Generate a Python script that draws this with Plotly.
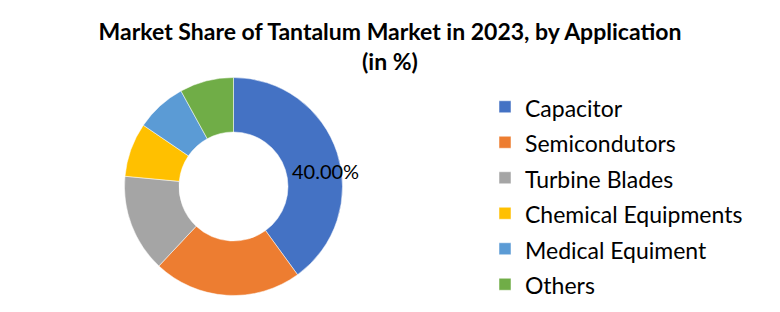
import plotly.graph_objects as go

labels = ["Capacitor", "Semicondutors", "Turbine Blades", "Chemical Equipments", "Medical Equiment", "Others"]
values = [40.0, 22.0, 14.5, 8.0, 7.5, 8.0]
colors = ["#4472C4", "#ED7D31", "#A5A5A5", "#FFC000", "#5B9BD5", "#70AD47"]
title_text = "<b>Market Share of Tantalum Market in 2023, by Application<br>(in %)</b>"

W, H = 780, 312
cx, cy, R = 233.5, 186.5, 109.0

legend_labels = [f"<span style='font-size:23px'>{l}</span>" for l in labels]

fig = go.Figure(go.Pie(
    labels=legend_labels, values=values, sort=False, direction="clockwise", rotation=0,
    hole=0.5, marker=dict(colors=colors, line=dict(color="white", width=0.5)),
    textinfo="none", hovertext=labels, hoverinfo="text+percent",
    domain=dict(x=[(cx - R) / W, (cx + R) / W], y=[(H - cy - R) / H, (H - cy + R) / H]),
))

fig.add_annotation(text=f"{values[0]:.2f}%", xref="paper", yref="paper",
                   x=325 / W, y=(H - 171) / H, showarrow=False,
                   font=dict(family="Lato", size=20, color="#000000"))

fig.update_layout(
    width=W, height=H, margin=dict(l=0, r=0, t=0, b=0),
    paper_bgcolor="white", plot_bgcolor="white",
    title=dict(text=title_text, x=0.5, xanchor="center", y=0.872, yanchor="top",
               font=dict(family="Lato", size=23, color="#000000")),
    legend=dict(x=485 / W, xanchor="left", y=(H - 195.5) / H, yanchor="middle",
                font=dict(family="Lato", size=25, color="#000000"),
                itemclick=False),
)

fig.write_html("out.html")
